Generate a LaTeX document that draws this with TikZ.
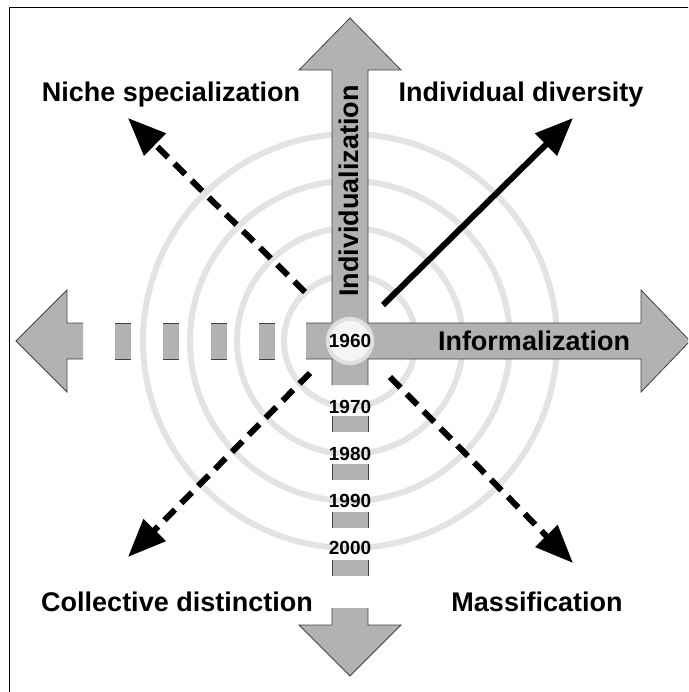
\documentclass[tikz,border=0pt]{standalone}
\usepackage{fontspec}
\setmainfont{Liberation Sans}
\usetikzlibrary{arrows.meta}

\begin{document}
\begin{tikzpicture}[x=1pt,y=-1pt,
  ring/.style={draw=black!11,line width=6pt},
  band/.style={fill=black!30},
  edge/.style={draw=black!75,line width=0.8pt},
  trend/.style={line width=6pt,-{Triangle[length=38pt,width=30pt]}},
  label/.style={font=\fontsize{27}{32}\selectfont\bfseries},
  year/.style={font=\fontsize{19}{22}\selectfont\bfseries}]
\useasboundingbox (0,0) rectangle (688,692);
\clip (0,0) rectangle (688,692);
\draw (9,7) rectangle (700,700);
% rings
\foreach \r in {66,113,160,207}
  \draw[ring] (350,341) circle (\r pt);
% diagonal trends
\coordinate (nw) at (305,292); \coordinate (nw tip) at (128,118);
\coordinate (ne) at (383,305); \coordinate (ne tip) at (573,118);
\coordinate (sw) at (310,373); \coordinate (sw tip) at (128,557);
\coordinate (se) at (390,377); \coordinate (se tip) at (573,563);
\draw[trend] (ne) -- (ne tip);
\draw[trend,dash pattern=on 15pt off 9pt] (nw) -- (nw tip);
\draw[trend,dash pattern=on 15pt off 9pt] (sw) -- (sw tip);
\draw[trend,dash pattern=on 15pt off 9pt] (se) -- (se tip);
% cross
\fill[band] (306,323) -- (332,323) -- (332,70) -- (299,70) -- (350,18) -- (401,70) -- (368,70) -- (368,323)
  -- (641,323) -- (641,290) -- (690,341) -- (641,392) -- (641,359) -- (368,359) -- (368,385)
  -- (332,385) -- (332,359) -- (306,359) -- cycle;
\draw[edge] (306,323) -- (332,323) -- (332,70) -- (299,70) -- (350,18) -- (401,70) -- (368,70) -- (368,323)
  -- (641,323) -- (641,290) -- (690,341) -- (641,392) -- (641,359) -- (368,359) -- (368,385)
  (332,385) -- (332,359) -- (306,359);
% left arrow
\fill[band] (83,323) -- (67,323) -- (67,290) -- (16,341) -- (67,392) -- (67,359) -- (83,359) -- cycle;
\draw[edge] (83,323) -- (67,323) -- (67,290) -- (16,341) -- (67,392) -- (67,359) -- (83,359);
% bottom arrow
\fill[band] (332,608) -- (332,625) -- (299,625) -- (350,676) -- (401,625) -- (368,625) -- (368,608) -- cycle;
\draw[edge] (332,608) -- (332,625) -- (299,625) -- (350,676) -- (401,625) -- (368,625) -- (368,608);
% dashes
\foreach \d in {75,123,171,219} {
  \fill[band] ({334-\d},323) rectangle ({350-\d},359);
  \draw[edge] ({334-\d},323) -- ({350-\d},323) ({334-\d},359) -- ({350-\d},359);
  \fill[band] (332,{341+\d}) rectangle (368,{357+\d});
  \draw[edge] (332,{341+\d}) -- (332,{357+\d}) (368,{341+\d}) -- (368,{357+\d});
}
% years
\node[circle,minimum size=44pt,inner sep=0pt,fill=black!4,draw=black!12,line width=4pt,year] (hub) at (350,341) {1960};
\foreach \r/\y in {66/1970,113/1980,160/1990,207/2000}
  \node[year] (y\y) at (350,{341+\r}) {\y};
% labels
\node[label,anchor=base] (niche) at (171,102) {Niche specialization};
\node[label,anchor=base] (diversity) at (521,102) {Individual diversity};
\node[label,anchor=base] (collective) at (177,611) {Collective distinction};
\node[label,anchor=base] (mass) at (537,611) {Massification};
\node[label] (informal) at (534,341) {Informalization};
\node[label,rotate=90] (individual) at (349,191) {Individualization};
\end{tikzpicture}
\end{document}
